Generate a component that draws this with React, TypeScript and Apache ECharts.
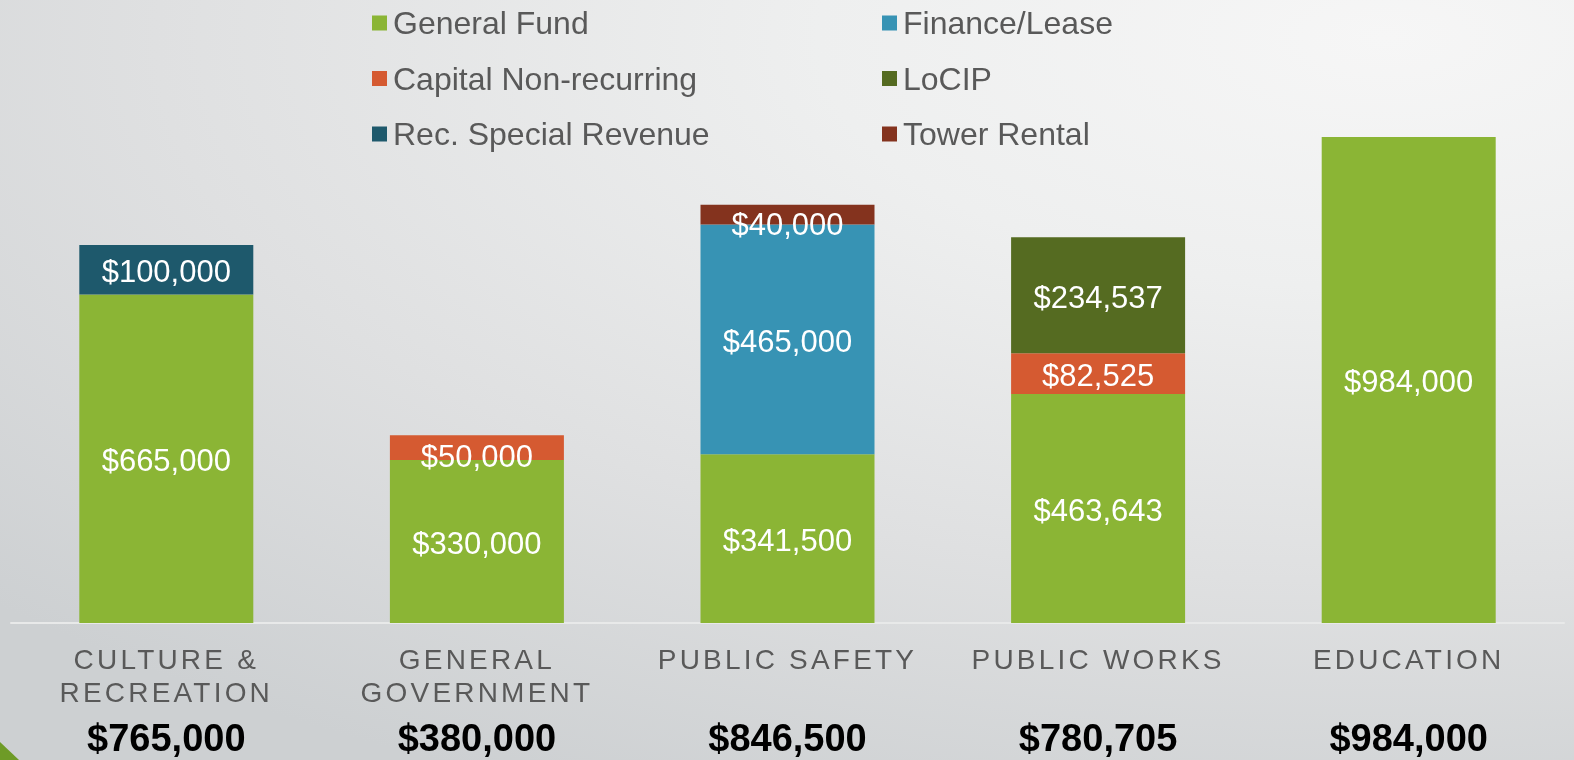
import React, { useEffect, useRef } from "react";
import * as echarts from "echarts";

const categories = ["CULTURE &\nRECREATION", "GENERAL\nGOVERNMENT", "PUBLIC SAFETY", "PUBLIC WORKS", "EDUCATION"];
const generalFund = [665000, 330000, 341500, 463643, 984000];
const capitalNonRecurring = [null, 50000, null, 82525, null];
const financeLease = [null, null, 465000, null, null];
const locip = [null, null, null, 234537, null];
const recSpecialRevenue = [100000, null, null, null, null];
const towerRental = [null, null, 40000, null, null];

const seriesDefs = [
  { name: "General Fund", data: generalFund, color: "#8BB535" },
  { name: "Capital Non-recurring", data: capitalNonRecurring, color: "#D55A31" },
  { name: "Finance/Lease", data: financeLease, color: "#3793B4" },
  { name: "LoCIP", data: locip, color: "#556B21" },
  { name: "Rec. Special Revenue", data: recSpecialRevenue, color: "#1E596C" },
  { name: "Tower Rental", data: towerRental, color: "#84331E" },
];

// label nudges for thin segments (style only)
const labelNudge: Record<string, number> = {
  "Capital Non-recurring|1": 9,
  "Tower Rental|2": 10,
};

const fmt = (v: number) => "$" + v.toLocaleString("en-US");

export default function App() {
  const ref = useRef<HTMLDivElement>(null);
  useEffect(() => {
    if (!ref.current) return;
    const chart = echarts.init(ref.current, undefined, { renderer: "svg" });
    const totals = categories.map((_, i) =>
      seriesDefs.reduce((s, d) => s + ((d.data[i] as number) || 0), 0)
    );
    const font = "'Liberation Sans', Arial, sans-serif";
    const legendText = { fontSize: 32, color: "#595959", fontFamily: font, padding: [0, 0, 0, 1] };
    const option: any = {
      animation: false,
      backgroundColor: "transparent",
      grid: { left: 11, right: 10, top: 129, bottom: 137 },
      legend: [
        {
          data: ["General Fund", "Capital Non-recurring", "Rec. Special Revenue"],
          orient: "vertical",
          left: 367,
          top: 2,
          itemWidth: 15,
          itemHeight: 15,
          itemGap: 23.5,
          icon: "rect",
          textStyle: legendText,
        },
        {
          data: ["Finance/Lease", "LoCIP", "Tower Rental"],
          orient: "vertical",
          left: 877,
          top: 2,
          itemWidth: 15,
          itemHeight: 15,
          itemGap: 23.5,
          icon: "rect",
          textStyle: legendText,
        },
      ],
      xAxis: [
        {
          type: "category",
          data: categories,
          axisLine: { show: true, lineStyle: { color: "#E8E9E9", width: 2 } },
          axisTick: { show: false },
          axisLabel: {
            fontSize: 28,
            lineHeight: 33,
            color: "#595959",
            fontFamily: font,
            margin: 20,
            interval: 0,
          },
        },
        {
          type: "category",
          position: "bottom",
          data: totals.map(fmt),
          axisLine: { show: false },
          axisTick: { show: false },
          axisLabel: {
            fontSize: 38,
            lineHeight: 40,
            fontWeight: "bold",
            color: "#000",
            fontFamily: font,
            margin: 95,
            interval: 0,
          },
        },
      ],
      yAxis: { type: "value", min: 0, max: 1000000, show: false, splitLine: { show: false } },
      series: seriesDefs.map((d) => ({
        name: d.name,
        type: "bar",
        stack: "total",
        xAxisIndex: 0,
        barWidth: 174,
        itemStyle: { color: d.color },
        label: {
          show: true,
          position: "inside",
          color: "#fff",
          fontSize: 31,
          fontFamily: font,
          formatter: (p: any) => (p.value == null ? "" : fmt(p.value)),
        },
        data: d.data.map((v, i) => {
          const n = labelNudge[d.name + "|" + i];
          return n ? { value: v, label: { offset: [0, n] } } : { value: v, label: { offset: [0, 2] } };
        }),
      })),
      graphic: [
        {
          type: "polygon",
          shape: { points: [[0, 742], [19, 760], [0, 760]] },
          style: { fill: "#6E9B27" },
        },
      ],
    };
    chart.setOption(option);
    // letter-spaced category labels, as in the reference
    const catLines = new Set<string>();
    categories.forEach((c) => c.split("\n").forEach((l) => catLines.add(l)));
    ref.current.querySelectorAll("text").forEach((t) => {
      const s = (t.textContent || "").trim();
      if (catLines.has(s)) {
        (t as SVGTextElement).style.letterSpacing = "3.2px";
      }
    });
    return () => chart.dispose();
  }, []);
  return (
    <div
      style={{
        position: "fixed",
        left: 0,
        top: 0,
        width: 1574,
        height: 760,
        background:
          "radial-gradient(ellipse 120% 110% at 88% 5%, #f6f6f6 0%, #eeefef 30%, #dfe0e1 65%, #cdd0d2 100%)",
      }}
    >
      <div ref={ref} style={{ width: 1574, height: 760 }} />
    </div>
  );
}
